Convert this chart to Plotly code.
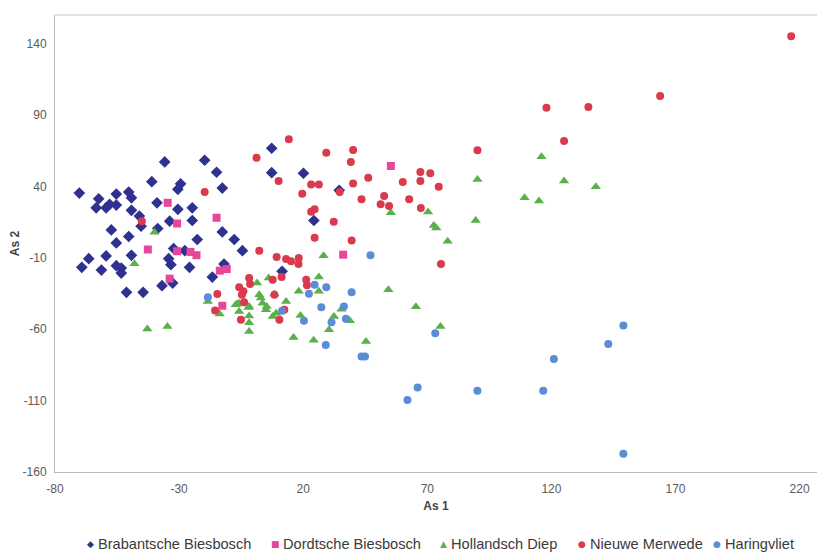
import plotly.graph_objects as go

# Brabantsche Biesbosch
bb_x = [-35.8, -19.7, -14.9, -41.0, -29.4, -30.5, -12.6, -70.2, -55.3, -50.3, -49.2, -62.4, -63.4, -59.4, -58.0,
        -55.3, -49.2, -38.9, -30.5, -24.7, -46.0, -45.3, -33.8, -24.7, -57.3, -38.6, -12.6, -55.3, -50.3, -22.7,
        -7.8, -4.5, -32.2, -27.7, -66.4, -59.4, -49.2, -69.2, -61.3, -55.3, -53.3, -53.3, -34.2, -33.3, -25.8,
        -16.6, -11.9, -51.2, -44.5, -36.9, -32.6, 7.3, 7.3, 20.1, 34.5, 24.3, 11.5]
bb_y = [57.1, 58.3, 49.9, 43.3, 41.8, 37.9, 38.8, 35.3, 34.6, 36.0, 32.0, 31.3, 25.0, 25.0, 27.4,
        26.9, 23.2, 28.5, 23.9, 25.0, 19.2, 12.1, 15.6, 16.1, 9.5, 10.5, 8.1, 0.4, 4.9, 2.8,
        2.8, -5.0, -3.5, -5.0, -10.6, -8.7, -8.3, -16.7, -18.6, -15.5, -17.2, -20.7, -10.6, -14.8, -16.7,
        -23.5, -14.4, -34.2, -34.2, -29.5, -27.7, 66.7, 49.6, 49.2, 37.2, 16.1, -19.5]

# Dordtsche Biesbosch
db_x = [-34.6, -14.9, -30.8, -42.6, -30.8, -25.4, -23.0, -13.6, -10.8, -33.8, -12.6, 36.1, 55.3]
db_y = [28.5, 18.0, 14.0, -4.2, -5.4, -5.9, -8.2, -19.0, -17.9, -24.6, -43.6, -7.8, 54.3]

# Hollandsch Diep
hd_x = [-39.9, -48.0, -7.2, -2.0, 28.2, 26.3, 6.1, 1.4, 2.3, 26.3, 18.2, 13.1, 3.6, 5.3, -1.8,
        -5.8, 8.4, 2.9, 5.0, -1.8, -1.8, -1.8, -5.8, 7.7, 9.1, 18.9, 35.4, 38.8, 32.4, 30.4,
        16.1, 24.2, 45.3, 54.3, 65.4, 55.3, 70.3, 72.6, 73.6, 78.2, 90.2, 89.5, 116.0, 125.1, 137.9,
        109.2, 115.0, 75.3, -18.4, -13.7, -42.8, -34.7, -6.6]
hd_y = [7.9, -14.1, -42.9, -44.8, -8.5, -23.5, -24.2, -27.7, -35.9, -33.5, -33.5, -40.6, -41.8, -44.1, -44.1,
        -41.8, -35.3, -38.2, -46.4, -50.8, -55.5, -61.6, -47.6, -51.1, -48.8, -50.4, -46.0, -54.1, -51.1, -60.4,
        -65.9, -67.8, -68.7, -32.4, -44.3, 21.5, 22.0, 12.6, 10.9, 1.6, 44.9, 16.1, 60.8, 43.7, 39.7,
        32.0, 29.7, -58.1, -40.6, -49.3, -59.8, -58.2, -42.4]

# Nieuwe Merwede
nm_x = [-19.7, -45.0, 14.2, 1.2, 29.3, 40.1, 39.2, 10.1, 23.2, 26.3, 46.2, 40.1, 19.6, 34.7, 43.5,
        23.2, 24.6, 32.3, 24.6, 39.5, 2.3, 9.3, 13.1, 15.1, 18.2, 18.1, 21.2, 21.5, 11.3, -1.8,
        -1.4, -5.8, -4.1, -4.7, -3.8, 8.4, -14.6, 7.7, 12.4, 10.4, -5.1, 90.2, 67.2, 71.2, 67.2,
        60.1, 74.6, 52.6, 51.2, 54.6, 62.7, 67.4, 75.5, 216.6, 163.8, 118.0, 134.9, 125.1, -15.5]
nm_y = [36.0, 15.6, 73.0, 60.1, 63.6, 65.5, 57.1, 43.7, 41.4, 41.4, 46.1, 42.1, 34.9, 36.0, 30.9,
        22.2, 23.9, 15.2, 4.0, 2.1, -5.0, -9.4, -10.9, -12.5, -10.2, -14.4, -25.3, -29.3, -23.5, -24.2,
        -28.4, -30.7, -33.5, -35.9, -41.1, -35.9, -35.4, -25.3, -46.4, -53.4, -53.4, 65.3, 50.1, 49.2, 43.7,
        43.0, 39.7, 33.2, 27.4, 26.2, 30.9, 24.8, -14.4, 145.1, 103.3, 95.0, 95.5, 71.8, -46.9]

# Haringvliet
hv_x = [-18.4, 47.1, 29.3, 24.6, 22.3, 39.5, 27.3, 36.4, 37.2, 20.3, 31.4, 11.5, 29.1, 43.5, 44.9,
        73.2, 121.0, 66.1, 62.0, 90.2, 116.7, 149.0, 142.9, 149.0]
hv_y = [-37.6, -8.2, -30.7, -28.8, -35.2, -34.2, -44.6, -44.1, -52.7, -54.1, -55.1, -47.1, -71.0, -79.2, -79.2,
        -62.8, -80.8, -100.8, -109.6, -103.1, -103.1, -57.4, -70.3, -147.2]

x_ticks = [-80, -30, 20, 70, 120, 170, 220]
y_ticks = [-160, -110, -60, -10, 40, 90, 140]

series = [
    ("Brabantsche Biesbosch", bb_x, bb_y, "diamond", "#2E318F", 9, "\u25C6"),
    ("Dordtsche Biesbosch", db_x, db_y, "square", "#E8469A", 8, "\u25A0"),
    ("Hollandsch Diep", hd_x, hd_y, "triangle-up", "#5AB04A", 9, "\u25B2"),
    ("Nieuwe Merwede", nm_x, nm_y, "circle", "#DA3A4C", 8, "\u25CF"),
    ("Haringvliet", hv_x, hv_y, "circle", "#5A8CD8", 8, "\u25CF"),
]

# legend entry marker centres (page px)
legend_px = [90, 275, 443, 582, 717]

W, H = 817, 552
ML, MR, MT, MB = 55, 0, 15, 80
pw = W - ML - MR
ph = H - MT - MB
leg_y = -(544 - (MT + ph)) / ph

fig = go.Figure()
annotations = []
for (name, xs, ys, sym, col, sz, glyph), lpx in zip(series, legend_px):
    fig.add_trace(go.Scatter(
        x=xs, y=ys, mode="markers", name=name, showlegend=False,
        marker=dict(symbol=sym, color=col, size=sz, line=dict(width=0)),
    ))
    annotations.append(dict(
        xref="paper", yref="paper", x=(lpx - ML) / pw, y=leg_y,
        xanchor="center", yanchor="middle", showarrow=False,
        text=glyph, font=dict(family="DejaVu Sans", size=9, color=col)))
    annotations.append(dict(
        xref="paper", yref="paper", x=(lpx + 6 - ML) / pw, y=leg_y,
        xanchor="left", yanchor="middle", showarrow=False,
        text=name, font=dict(family="Liberation Sans, Arial, sans-serif", size=14.6, color="#3a3a3a")))

font_family = "Liberation Sans, Arial, sans-serif"
fig.update_layout(
    width=W, height=H,
    margin=dict(l=ML, r=MR, t=MT, b=MB),
    paper_bgcolor="white", plot_bgcolor="white",
    font=dict(family=font_family, size=12, color="#5a5a5a"),
    showlegend=False,
    annotations=annotations,
    xaxis=dict(range=[-80, 227], tickvals=x_ticks, ticktext=[str(v) for v in x_ticks],
               showgrid=False, zeroline=False, showline=True, linecolor="#BBBBBB", linewidth=1,
               ticks="", ticklabelstandoff=6, automargin=False,
               title=dict(text="<b>As 1</b>", font=dict(size=12, color="#444444"), standoff=6)),
    yaxis=dict(range=[-160, 160], tickvals=y_ticks, ticktext=[str(v) for v in y_ticks],
               showgrid=False, zeroline=False, showline=True, linecolor="#BBBBBB", linewidth=1,
               ticks="", ticklabelstandoff=5, automargin=False,
               title=dict(text="<b>As 2</b>", font=dict(size=12, color="#444444"), standoff=0)),
    shapes=[dict(type="line", xref="paper", yref="paper", x0=0, x1=1, y0=1, y1=1,
                 line=dict(color="#C8C8C8", width=1))],
)

fig.write_html("out.html", config={"displayModeBar": False},
               post_script="document.body.style.margin='0';")
